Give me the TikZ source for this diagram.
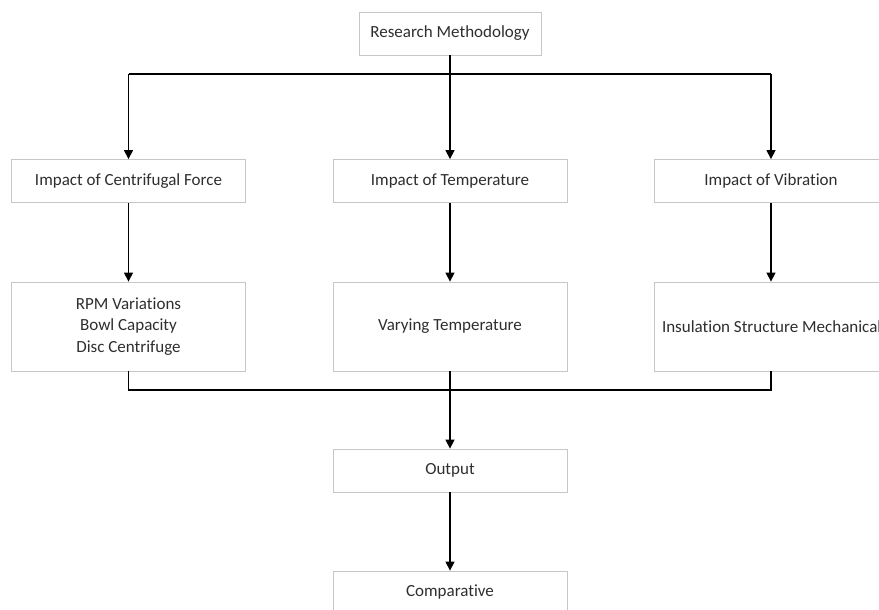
\documentclass[tikz,border=0pt]{standalone}
\usepackage{fontspec}
\setmainfont{Carlito}[Ligatures=NoCommon]
\usetikzlibrary{arrows.meta}
\begin{document}
\begin{tikzpicture}[x=1pt,y=-1pt]
\tikzstyle{box} = [draw=black!22,line width=0.8pt,minimum width=234pt,minimum height=43pt,align=center,text=black!82,font=\fontsize{17}{21.5}\selectfont]
\tikzstyle{flow} = [line width=1.3pt,-{Triangle[length=9pt,width=9pt]}]
\tikzstyle{link} = [line width=1.3pt]
\useasboundingbox (0,0) rectangle (879,610);
\clip (0,0) rectangle (879,610);
	% top
	\node[box,minimum width=182pt] (method) at (450,33.5) {Research Methodology};
	% impacts
	\node[box] (force) at (128.5,181) {Impact of Centrifugal Force};
	\node[box] (temp) at (450,181) {Impact of Temperature};
	\node[box] (vib) at (771,181) {Impact of Vibration};
	% details
	\node[box,minimum height=89pt] (rpm) at (128.5,326.5) {RPM Variations\\Bowl Capacity\\Disc Centrifuge};
	\node[box,minimum height=89pt,inner xsep=8pt] (insul) at (771,326.5) {\makebox[218pt][l]{Insulation Structure Mechanical}};
	\node[box,minimum height=89pt] (vary) at (450,326.5) {Varying Temperature};
	% results
	\node[box] (out) at (450,470.5) {Output};
	\node[box] (comp) at (450,592.5) {Comparative};
	% connectors
	\coordinate (splitL) at (128.5,74);
	\coordinate (splitR) at (771,74);
	\coordinate (joinL) at (128.5,390);
	\coordinate (joinR) at (771,390);
	\draw[flow] (method) -- (temp);
	\draw[link] (splitL) -- (splitR);
	\draw[flow] (splitL) -- (force);
	\draw[flow] (splitR) -- (vib);
	\draw[flow] (force) -- (rpm);
	\draw[flow] (temp) -- (vary);
	\draw[flow] (vib) -- (insul);
	\draw[link] (rpm) -- (joinL) -- (joinR) -- (insul);
	\draw[flow] (vary) -- (out);
	\draw[flow] (out) -- (comp);
\end{tikzpicture}
\end{document}
